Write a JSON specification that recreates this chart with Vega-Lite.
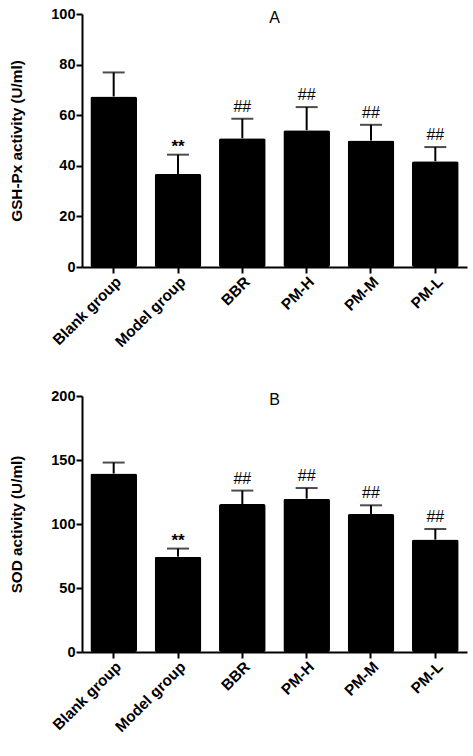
{
  "$schema": "https://vega.github.io/schema/vega-lite/v6.json",
  "padding": {"left": 9, "top": 6, "right": 4, "bottom": 5},
  "spacing": 38,
  "config": {
    "view": {"stroke": null},
    "font": "Liberation Sans",
    "axis": {
      "domainColor": "black", "domainWidth": 2,
      "tickColor": "black", "tickWidth": 2, "tickSize": 6,
      "labelColor": "black", "labelFont": "Liberation Sans", "labelFontWeight": "bold", "labelFontSize": 14.5,
      "titleFont": "Liberation Sans", "titleFontWeight": "bold", "titleFontSize": 15.3, "titleColor": "black",
      "grid": false, "labelPadding": 1
    },
    "axisX": {"labelFontSize": 15.3},
    "axisY": {"titlePadding": 26},
    "title": {"font": "Liberation Sans", "fontSize": 16, "fontWeight": "normal", "color": "black", "frame": "group", "anchor": "middle", "baseline": "alphabetic", "offset": -20}
  },
  "datasets": {
    "gsh": [
      {"group": "Blank group", "mean": 67.4, "upper": 76.9, "sig": ""},
      {"group": "Model group", "mean": 36.8, "upper": 44.4, "sig": "**"},
      {"group": "BBR", "mean": 50.9, "upper": 58.6, "sig": "##"},
      {"group": "PM-H", "mean": 54.1, "upper": 63.2, "sig": "##"},
      {"group": "PM-M", "mean": 50.0, "upper": 56.2, "sig": "##"},
      {"group": "PM-L", "mean": 41.8, "upper": 47.4, "sig": "##"}
    ],
    "sod": [
      {"group": "Blank group", "mean": 139.4, "upper": 148.0, "sig": ""},
      {"group": "Model group", "mean": 74.5, "upper": 80.8, "sig": "**"},
      {"group": "BBR", "mean": 115.6, "upper": 126.1, "sig": "##"},
      {"group": "PM-H", "mean": 119.8, "upper": 128.1, "sig": "##"},
      {"group": "PM-M", "mean": 107.8, "upper": 114.6, "sig": "##"},
      {"group": "PM-L", "mean": 87.8, "upper": 96.1, "sig": "##"}
    ]
  },
  "vconcat": [
    {
      "width": 385, "height": 253,
      "data": {"name": "gsh"},
      "title": {"text": "A"},
      "encoding": {
        "x": {"field": "group", "type": "nominal", "sort": null,
              "scale": {"paddingInner": 0.275, "paddingOuter": 0.13},
              "axis": {"title": null, "labelAngle": -45}}
      },
      "layer": [
        {"mark": {"type": "bar", "color": "black", "cornerRadius": 2},
         "encoding": {"y": {"field": "mean", "type": "quantitative",
                            "scale": {"domain": [0, 100]},
                            "axis": {"values": [0, 20, 40, 60, 80, 100], "title": "GSH-Px activity (U/ml)"}}}},
        {"mark": {"type": "rule", "color": "black", "strokeWidth": 2},
         "encoding": {"y": {"field": "mean", "type": "quantitative"}, "y2": {"field": "upper"}}},
        {"mark": {"type": "tick", "color": "black", "thickness": 2, "size": 22},
         "encoding": {"y": {"field": "upper", "type": "quantitative"}}},
        {"transform": [{"filter": "datum.sig === '##'"}],
         "mark": {"type": "text", "fontSize": 16, "baseline": "alphabetic", "dy": -7, "color": "black"},
         "encoding": {"y": {"field": "upper", "type": "quantitative"}, "text": {"field": "sig"}}},
        {"transform": [{"filter": "datum.sig === '**'"}],
         "mark": {"type": "text", "fontSize": 17, "fontWeight": "bold", "baseline": "alphabetic", "dy": -3, "color": "black"},
         "encoding": {"y": {"field": "upper", "type": "quantitative"}, "text": {"field": "sig"}}}
      ]
    },
    {
      "width": 385, "height": 256,
      "data": {"name": "sod"},
      "title": {"text": "B"},
      "encoding": {
        "x": {"field": "group", "type": "nominal", "sort": null,
              "scale": {"paddingInner": 0.275, "paddingOuter": 0.13},
              "axis": {"title": null, "labelAngle": -45}}
      },
      "layer": [
        {"mark": {"type": "bar", "color": "black", "cornerRadius": 2},
         "encoding": {"y": {"field": "mean", "type": "quantitative",
                            "scale": {"domain": [0, 200]},
                            "axis": {"values": [0, 50, 100, 150, 200], "title": "SOD activity (U/ml)"}}}},
        {"mark": {"type": "rule", "color": "black", "strokeWidth": 2},
         "encoding": {"y": {"field": "mean", "type": "quantitative"}, "y2": {"field": "upper"}}},
        {"mark": {"type": "tick", "color": "black", "thickness": 2, "size": 22},
         "encoding": {"y": {"field": "upper", "type": "quantitative"}}},
        {"transform": [{"filter": "datum.sig === '##'"}],
         "mark": {"type": "text", "fontSize": 16, "baseline": "alphabetic", "dy": -7, "color": "black"},
         "encoding": {"y": {"field": "upper", "type": "quantitative"}, "text": {"field": "sig"}}},
        {"transform": [{"filter": "datum.sig === '**'"}],
         "mark": {"type": "text", "fontSize": 17, "fontWeight": "bold", "baseline": "alphabetic", "dy": -3, "color": "black"},
         "encoding": {"y": {"field": "upper", "type": "quantitative"}, "text": {"field": "sig"}}}
      ]
    }
  ]
}
